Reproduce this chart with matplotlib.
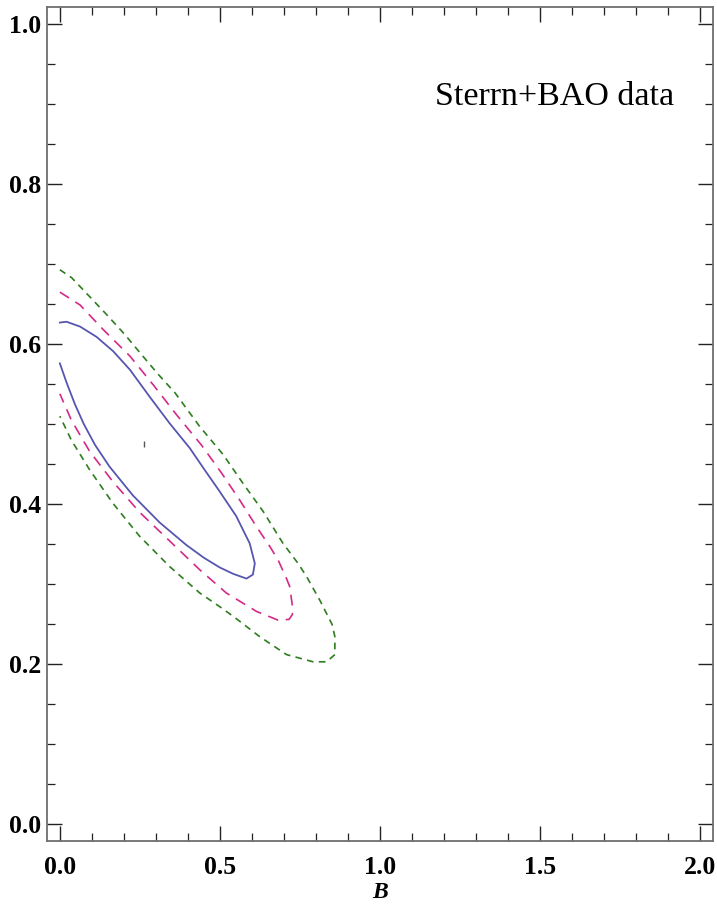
import matplotlib
matplotlib.use("Agg")
import matplotlib.pyplot as plt
from matplotlib.ticker import MultipleLocator

# contour lines (B, y), each going clockwise from the B = 0 edge
b_1sig = [0.0, 0.021, 0.063, 0.115, 0.167, 0.219, 0.281, 0.343, 0.406, 0.452, 0.499,
          0.551, 0.593, 0.609, 0.603, 0.583, 0.541, 0.499, 0.450, 0.395, 0.312, 0.228,
          0.155, 0.110, 0.075, 0.047, 0.021, 0.0]
y_1sig = [0.627, 0.628, 0.622, 0.609, 0.591, 0.568, 0.534, 0.501, 0.470, 0.443, 0.416,
          0.385, 0.351, 0.326, 0.312, 0.307, 0.313, 0.321, 0.333, 0.349, 0.377, 0.411,
          0.447, 0.474, 0.500, 0.525, 0.552, 0.576]

b_2sig = [0.0, 0.063, 0.136, 0.219, 0.292, 0.364, 0.442, 0.505, 0.562, 0.614, 0.656,
          0.682, 0.708, 0.718, 0.728, 0.726, 0.716, 0.682, 0.614, 0.520, 0.437, 0.343,
          0.249, 0.166, 0.093, 0.036, 0.0]
y_2sig = [0.665, 0.649, 0.618, 0.585, 0.549, 0.512, 0.474, 0.439, 0.405, 0.372, 0.347,
          0.330, 0.307, 0.297, 0.268, 0.262, 0.256, 0.255, 0.266, 0.289, 0.318, 0.354,
          0.390, 0.428, 0.466, 0.505, 0.538]

b_3sig = [0.0, 0.037, 0.094, 0.146, 0.203, 0.255, 0.308, 0.360, 0.437, 0.510, 0.572,
          0.635, 0.697, 0.744, 0.770, 0.812, 0.850, 0.859, 0.859, 0.833, 0.791, 0.708,
          0.624, 0.541, 0.499, 0.437, 0.343, 0.249, 0.166, 0.093, 0.036, 0.0]
y_3sig = [0.693, 0.683, 0.659, 0.637, 0.612, 0.587, 0.562, 0.539, 0.497, 0.462, 0.426,
          0.391, 0.351, 0.326, 0.310, 0.280, 0.250, 0.2345, 0.212, 0.203, 0.203, 0.212,
          0.2345, 0.260, 0.272, 0.289, 0.322, 0.360, 0.401, 0.443, 0.480, 0.510]

best_b = [0.262]
best_y = [0.475]

fig = plt.figure(figsize=(7.17, 9.24), dpi=100)
ax = fig.add_axes([0.0656, 0.0898, 0.9288, 0.9023])

ax.plot(b_3sig, y_3sig, color="#2e7d1e", lw=1.2, dashes=(4.0, 3.2))
ax.plot(b_2sig, y_2sig, color="#d42a86", lw=1.2, dashes=(6.5, 4.5))
ax.plot(b_1sig, y_1sig, color="#5656b0", lw=1.3)
ax.plot(best_b, best_y, ls="none", marker="|", ms=5, mew=1, color="#555555")

ax.set_xlim(-0.04, 2.04)
ax.set_ylim(-0.021, 1.021)

ax.xaxis.set_major_locator(MultipleLocator(0.5))
ax.xaxis.set_minor_locator(MultipleLocator(0.1))
ax.yaxis.set_major_locator(MultipleLocator(0.2))
ax.yaxis.set_minor_locator(MultipleLocator(0.05))
ax.xaxis.set_major_formatter(lambda v, p: f"{v:.1f}")
ax.yaxis.set_major_formatter(lambda v, p: f"{v:.1f}")

ax.tick_params(which="both", direction="in", top=True, right=True, color="#222222")
ax.tick_params(which="major", length=11, width=1.0)
ax.tick_params(which="minor", length=6, width=0.9)
ax.tick_params(axis="x", which="major", pad=11)
ax.tick_params(axis="y", which="major", pad=4)
for lab in ax.get_xticklabels() + ax.get_yticklabels():
    lab.set_fontfamily("Liberation Serif")
    lab.set_fontweight("bold")
    lab.set_fontsize(18.5)

for sp in ax.spines.values():
    sp.set_color("#6e6e6e")
    sp.set_linewidth(1.3)

ax.set_xlabel("B", fontfamily="Liberation Serif", fontweight="bold",
              fontstyle="italic", fontsize=17, labelpad=2)

ax.text(1.92, 0.909, "Sterrn+BAO data", fontfamily="Liberation Serif",
        fontsize=24.5, ha="right", va="center")

fig.savefig("out.png", dpi=100)
